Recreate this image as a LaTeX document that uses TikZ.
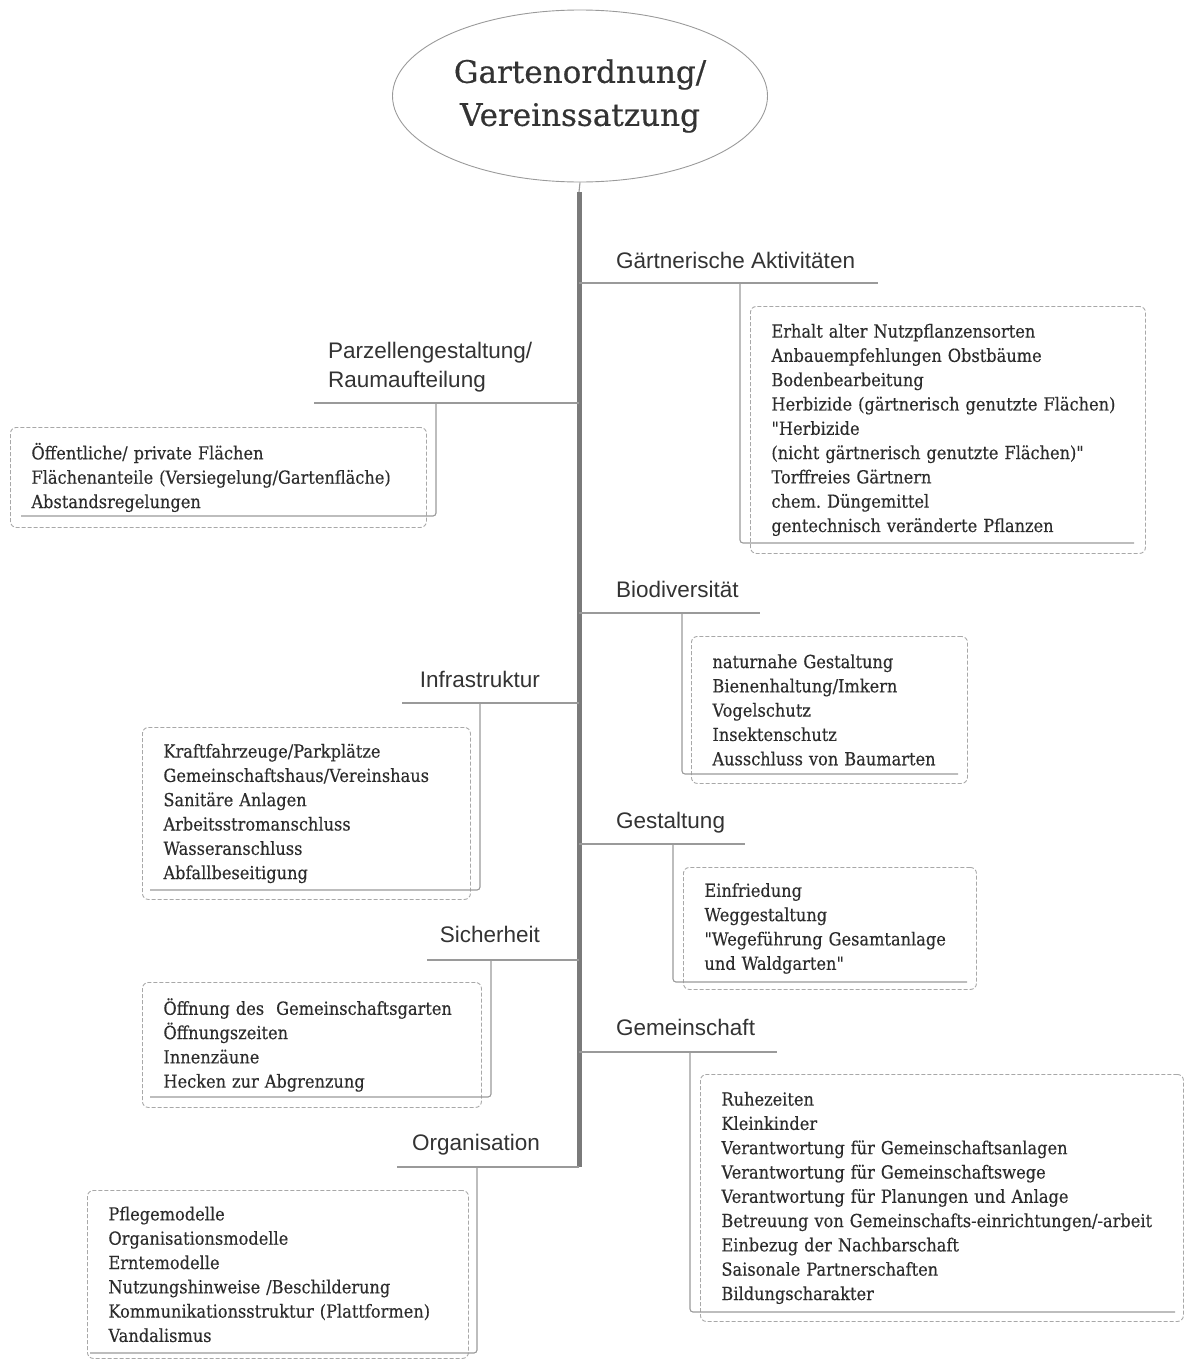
\documentclass[tikz,border=0pt]{standalone}
\usepackage{fontspec}
\setmainfont{DejaVu Serif}[FakeStretch=0.9, FakeBold=0.3, Ligatures=TeXOff]
\newfontfamily\headfont{Liberation Sans}
\newfontfamily\titlefont{DejaVu Serif}[FakeBold=0.5]
\usetikzlibrary{shapes.geometric}
\definecolor{txtgray}{HTML}{2C2C2C}
\definecolor{headgray}{HTML}{333333}
\definecolor{trunkgray}{HTML}{7A7A7A}
\definecolor{linegray}{HTML}{9A9A9A}
\definecolor{boxgray}{HTML}{A8A8A8}

\begin{document}
\begin{tikzpicture}[x=1pt,y=-1pt,
  head/.style={font=\headfont\fontsize{22.5}{29}\selectfont, text=headgray, inner sep=0pt},
  items/.style={draw=boxgray, dash pattern=on 4pt off 2pt, rounded corners=6pt,
    line width=0.9pt, anchor=north west, align=left, inner xsep=21pt, inner ysep=0pt,
    font=\fontsize{18}{24.3}\selectfont, text=txtgray},
  branch/.style={draw=linegray, line width=1.1pt},
  hook/.style={branch, rounded corners=3pt},
  trunk/.style={draw=trunkgray, line width=5pt}]
  \useasboundingbox (0,0) rectangle (1184,1360);

  % Title and trunk
  \node[ellipse, draw=linegray, line width=0.9pt, minimum width=375pt, minimum height=172pt,
    align=center, font=\titlefont\fontsize{31}{43}\selectfont, text=headgray]
    (root) at (580,96) {Gartenordnung/\\Vereinssatzung};
  \draw[trunk] (579,192) coordinate (trunkTop) -- (579,1167) coordinate (trunkBot);
  \draw[branch] (root.south) -- (trunkTop);

  % Gaertnerische Aktivitaeten
  \node[head, anchor=base west] (gaH) at (616,268) {Gärtnerische Aktivitäten};
  \draw[branch] (579,283) coordinate (gaA) -- (878,283) coordinate (gaE);
  \node[items, minimum width=395pt, minimum height=247pt, text width=353pt] (gaB) at (750,306)
    {Erhalt alter Nutzpflanzensorten\\
     Anbauempfehlungen Obstbäume\\
     Bodenbearbeitung\\
     Herbizide (gärtnerisch genutzte Flächen)\\
     "Herbizide\\
     (nicht gärtnerisch genutzte Flächen)"\\
     Torffreies Gärtnern\\
     chem.\ Düngemittel\\
     gentechnisch veränderte Pflanzen};
  \draw[hook] (740,283) coordinate (gaK) |- (1134,543) coordinate (gaF);

  % Parzellengestaltung
  \node[head, anchor=south west, align=left] (pzH) at (328,392) {Parzellengestaltung/\\Raumaufteilung};
  \draw[branch] (579,403) coordinate (pzA) -- (314,403) coordinate (pzE);
  \node[items, minimum width=416pt, minimum height=100pt, text width=374pt] (pzB) at (10,427)
    {Öffentliche/ private Flächen\\
     Flächenanteile (Versiegelung/Gartenfläche)\\
     Abstandsregelungen};
  \draw[hook] (436,403) coordinate (pzK) |- (21,516) coordinate (pzF);

  % Biodiversitaet
  \node[head, anchor=base west] (bdH) at (616,597) {Biodiversität};
  \draw[branch] (579,613) coordinate (bdA) -- (760,613) coordinate (bdE);
  \node[items, minimum width=276pt, minimum height=147pt, text width=234pt] (bdB) at (691,636)
    {naturnahe Gestaltung\\
     Bienenhaltung/Imkern\\
     Vogelschutz\\
     Insektenschutz\\
     Ausschluss von Baumarten};
  \draw[hook] (682,613) coordinate (bdK) |- (958,774) coordinate (bdF);

  % Infrastruktur
  \node[head, anchor=base east] (ifH) at (540,687) {Infrastruktur};
  \draw[branch] (579,703) coordinate (ifA) -- (402,703) coordinate (ifE);
  \node[items, minimum width=328pt, minimum height=172pt, text width=286pt] (ifB) at (142,727)
    {Kraftfahrzeuge/Parkplätze\\
     Gemeinschaftshaus/Vereinshaus\\
     Sanitäre Anlagen\\
     Arbeitsstromanschluss\\
     Wasseranschluss\\
     Abfallbeseitigung};
  \draw[hook] (480,703) coordinate (ifK) |- (150,890) coordinate (ifF);

  % Gestaltung
  \node[head, anchor=base west] (gsH) at (616,828) {Gestaltung};
  \draw[branch] (579,844) coordinate (gsA) -- (745,844) coordinate (gsE);
  \node[items, minimum width=293pt, minimum height=122pt, text width=251pt] (gsB) at (683,867)
    {Einfriedung\\
     Weggestaltung\\
     "Wegeführung Gesamtanlage\\
     und Waldgarten"};
  \draw[hook] (673,844) coordinate (gsK) |- (967,982) coordinate (gsF);

  % Sicherheit
  \node[head, anchor=base east] (shH) at (540,942) {Sicherheit};
  \draw[branch] (579,960) coordinate (shA) -- (427,960) coordinate (shE);
  \node[items, minimum width=339pt, minimum height=125pt, text width=297pt] (shB) at (142,982)
    {Öffnung des\ \ Gemeinschaftsgarten\\
     Öffnungszeiten\\
     Innenzäune\\
     Hecken zur Abgrenzung};
  \draw[hook] (491,960) coordinate (shK) |- (150,1097) coordinate (shF);

  % Gemeinschaft
  \node[head, anchor=base west] (gmH) at (616,1035) {Gemeinschaft};
  \draw[branch] (579,1052) coordinate (gmA) -- (777,1052) coordinate (gmE);
  \node[items, minimum width=483pt, minimum height=247pt, text width=441pt] (gmB) at (700,1074)
    {Ruhezeiten\\
     Kleinkinder\\
     Verantwortung für Gemeinschaftsanlagen\\
     Verantwortung für Gemeinschaftswege\\
     Verantwortung für Planungen und Anlage\\
     Betreuung von Gemeinschafts-einrichtungen/-arbeit\\
     Einbezug der Nachbarschaft\\
     Saisonale Partnerschaften\\
     Bildungscharakter};
  \draw[hook] (690,1052) coordinate (gmK) |- (1175,1312) coordinate (gmF);

  % Organisation
  \node[head, anchor=base east] (orH) at (540,1150) {Organisation};
  \draw[branch] (579,1167) coordinate (orA) -- (397,1167) coordinate (orE);
  \node[items, minimum width=381pt, minimum height=168pt, text width=339pt] (orB) at (87,1190)
    {Pflegemodelle\\
     Organisationsmodelle\\
     Erntemodelle\\
     Nutzungshinweise /Beschilderung\\
     Kommunikationsstruktur (Plattformen)\\
     Vandalismus};
  \draw[hook] (477,1167) coordinate (orK) |- (90,1353) coordinate (orF);
\end{tikzpicture}
\end{document}
